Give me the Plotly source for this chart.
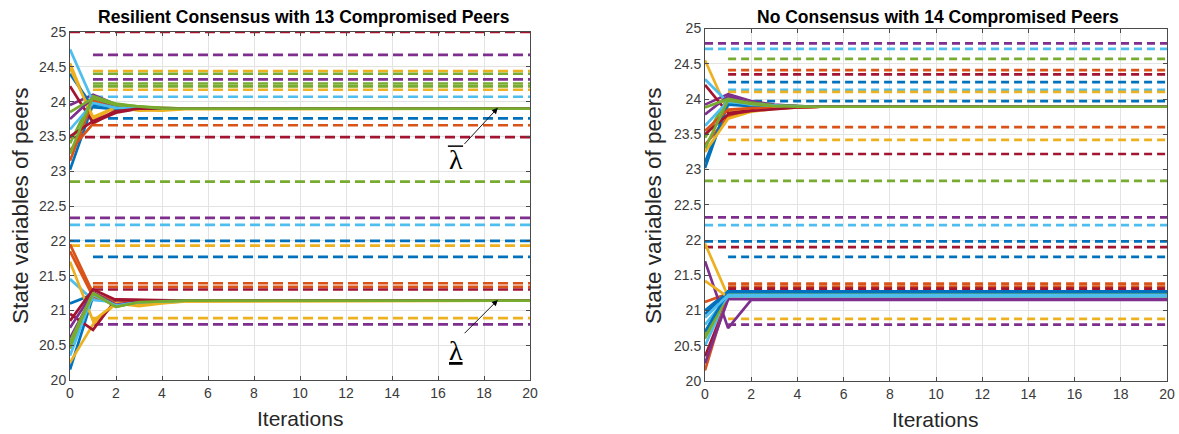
import plotly.graph_objects as go

# ---------------- data ----------------
iters = [0, 1, 2, 3, 4, 5, 20]
x_ticks = [0, 2, 4, 6, 8, 10, 12, 14, 16, 18, 20]
y_ticks = [20, 20.5, 21, 21.5, 22, 22.5, 23, 23.5, 24, 24.5, 25]

left_title = "Resilient Consensus with 13 Compromised Peers"
right_title = "No Consensus with 14 Compromised Peers"
y_label = "State variables of peers"
x_label = "Iterations"

# compromised peers (constant states), left panel
left_comp = [25.00, 24.67, 24.44, 24.40, 24.32, 24.26, 24.22, 24.17, 24.07,
             23.76, 23.66, 23.49, 22.85, 22.33, 22.23, 22.00, 21.93, 21.77,
             21.39, 21.34, 21.30, 20.89, 20.80]
left_comp_start = [0, 1, 1, 1, 1, 1, 1, 1, 1, 1, 1, 0, 0, 0, 0, 0, 0, 1,
                   1, 1, 1, 1, 1]
# compromised peers, right panel
right_comp = [24.79, 24.71, 24.57, 24.41, 24.35, 24.24, 24.13, 24.10, 23.97,
              23.60, 23.42, 23.22, 22.84, 22.32, 22.21, 21.98, 21.90, 21.76,
              21.38, 21.34, 21.31, 20.88, 20.80]
right_comp_start = [0, 0, 1, 1, 1, 1, 1, 1, 1, 1, 1, 1, 0, 0, 0, 0, 0, 1,
                    1, 1, 1, 1, 1]

# honest peers, left panel (values at iters)
left_upper = [
    [23.02, 23.96, 23.91, 23.90, 23.90, 23.90, 23.90],
    [23.30, 23.68, 23.88, 23.90, 23.89, 23.90, 23.90],
    [24.55, 23.74, 23.93, 23.88, 23.87, 23.89, 23.90],
    [23.95, 24.10, 23.96, 23.92, 23.90, 23.90, 23.90],
    [23.40, 24.08, 23.97, 23.93, 23.91, 23.90, 23.90],
    [24.75, 24.00, 23.90, 23.90, 23.90, 23.90, 23.90],
    [24.22, 23.70, 23.84, 23.90, 23.90, 23.90, 23.90],
    [24.40, 23.92, 23.89, 23.90, 23.90, 23.90, 23.90],
    [23.15, 24.02, 23.92, 23.91, 23.90, 23.90, 23.90],
    [24.48, 23.78, 23.92, 23.87, 23.88, 23.90, 23.90],
    [23.75, 24.06, 23.93, 23.91, 23.90, 23.90, 23.90],
    [23.85, 24.05, 23.95, 23.92, 23.91, 23.90, 23.90],
    [23.60, 23.98, 23.91, 23.90, 23.90, 23.90, 23.90],
    [23.50, 23.72, 23.86, 23.90, 23.90, 23.90, 23.90],
    [23.25, 24.07, 23.96, 23.93, 23.90, 23.90, 23.90],
]
left_lower = [
    [20.15, 21.20, 21.10, 21.12, 21.13, 21.14, 21.14],
    [21.95, 21.25, 21.12, 21.13, 21.14, 21.14, 21.14],
    [20.25, 20.80, 21.10, 21.06, 21.10, 21.13, 21.14],
    [20.60, 21.22, 21.08, 21.12, 21.13, 21.14, 21.14],
    [20.45, 21.24, 21.05, 21.12, 21.13, 21.14, 21.14],
    [21.45, 21.15, 21.12, 21.13, 21.14, 21.14, 21.14],
    [20.95, 20.72, 21.16, 21.15, 21.14, 21.14, 21.14],
    [21.10, 21.23, 21.10, 21.13, 21.14, 21.14, 21.14],
    [21.85, 21.20, 21.11, 21.13, 21.14, 21.14, 21.14],
    [21.70, 20.85, 21.10, 21.08, 21.11, 21.13, 21.14],
    [20.75, 21.26, 21.08, 21.13, 21.14, 21.14, 21.14],
    [20.55, 21.25, 21.06, 21.12, 21.13, 21.14, 21.14],
    [20.35, 21.22, 21.07, 21.12, 21.13, 21.14, 21.14],
    [20.85, 21.30, 21.15, 21.14, 21.14, 21.14, 21.14],
    [20.50, 21.24, 21.05, 21.12, 21.13, 21.14, 21.14],
]
# honest peers, right panel
right_upper = [
    [23.02, 23.96, 23.92, 23.90, 23.89, 23.89, 23.89],
    [23.35, 23.75, 23.84, 23.87, 23.88, 23.89, 23.89],
    [24.55, 23.82, 23.86, 23.88, 23.89, 23.89, 23.89],
    [23.92, 24.07, 23.97, 23.92, 23.90, 23.89, 23.89],
    [23.45, 24.02, 23.95, 23.91, 23.90, 23.89, 23.89],
    [24.28, 23.95, 23.91, 23.90, 23.89, 23.89, 23.89],
    [24.20, 23.80, 23.84, 23.87, 23.88, 23.89, 23.89],
    [23.10, 23.92, 23.90, 23.89, 23.89, 23.89, 23.89],
    [23.55, 23.85, 23.87, 23.88, 23.89, 23.89, 23.89],
    [23.25, 23.72, 23.82, 23.86, 23.88, 23.89, 23.89],
    [23.78, 24.04, 23.94, 23.91, 23.90, 23.89, 23.89],
    [23.88, 24.00, 23.94, 23.91, 23.90, 23.89, 23.89],
    [23.62, 23.97, 23.92, 23.90, 23.89, 23.89, 23.89],
    [23.50, 23.78, 23.83, 23.86, 23.88, 23.89, 23.89],
    [23.30, 23.98, 23.93, 23.90, 23.89, 23.89, 23.89],
]
right_lower = [
    [21.00, 21.27, 21.27, 21.27, 21.27, 21.27, 21.27],
    [21.12, 21.24, 21.24, 21.24, 21.24, 21.24, 21.24],
    [21.95, 21.20, 21.20, 21.20, 21.20, 21.20, 21.20],
    [21.70, 20.75, 21.15, 21.15, 21.15, 21.15, 21.15],
    [20.65, 21.22, 21.22, 21.22, 21.22, 21.22, 21.22],
    [20.50, 21.21, 21.21, 21.21, 21.21, 21.21, 21.21],
    [20.35, 21.17, 21.17, 21.17, 21.17, 21.17, 21.17],
    [20.95, 21.27, 21.27, 21.27, 21.27, 21.27, 21.27],
    [20.15, 21.24, 21.24, 21.24, 21.24, 21.24, 21.24],
    [21.42, 21.19, 21.19, 21.19, 21.19, 21.19, 21.19],
    [20.25, 21.16, 21.16, 21.16, 21.16, 21.16, 21.16],
    [20.60, 21.23, 21.23, 21.23, 21.23, 21.23, 21.23],
    [20.80, 21.20, 21.20, 21.20, 21.20, 21.20, 21.20],
    [20.70, 21.26, 21.26, 21.26, 21.26, 21.26, 21.26],
    [20.90, 21.22, 21.22, 21.22, 21.22, 21.22, 21.22],
]

# annotation anchors (data units of left panel)
upper_arrow_tip = (18.6, 23.91)
upper_arrow_tail = (17.09, 23.37)
lower_arrow_tip = (18.6, 21.15)
lower_arrow_tail = (17.09, 20.65)
upper_label = (16.77, 23.17)
lower_label = (16.77, 20.42)
overbar = (16.43, 17.09, 23.36)

# ---------------- styles ----------------
BLUE, ORANGE, YELLOW, PURPLE, GREEN, LBLUE, MAROON = (
    "#0072BD", "#D95319", "#EDB120", "#7E2F8E", "#77AC30", "#4DBEEE", "#A2142F")
cycle = [BLUE, ORANGE, YELLOW, PURPLE, GREEN, LBLUE, MAROON]

left_comp_colors = [MAROON, PURPLE, YELLOW, GREEN, PURPLE, GREEN, GREEN, YELLOW,
                    LBLUE, BLUE, ORANGE, MAROON, GREEN, PURPLE, LBLUE, BLUE,
                    YELLOW, BLUE, ORANGE, ORANGE, MAROON, YELLOW, PURPLE]
right_comp_colors = [PURPLE, LBLUE, GREEN, ORANGE, MAROON, BLUE, LBLUE, YELLOW,
                     BLUE, ORANGE, YELLOW, MAROON, GREEN, PURPLE, LBLUE, BLUE,
                     MAROON, BLUE, ORANGE, ORANGE, MAROON, YELLOW, PURPLE]
left_upper_colors = cycle * 2 + [GREEN]
left_lower_colors = cycle * 2 + [GREEN]
right_upper_colors = cycle * 2 + [GREEN]
right_lower_colors = [BLUE, ORANGE, YELLOW, PURPLE, GREEN, LBLUE, MAROON,
                      BLUE, ORANGE, YELLOW, PURPLE, GREEN, LBLUE, BLUE, LBLUE]

FONT = "Liberation Sans, Arial, sans-serif"
FW, FH = 1179, 434


def px(x):
    return x / FW


def py(y):
    return 1 - y / FH


fig = go.Figure()


def add_panel(xa, ya, comp, comp_start, comp_colors, groups, dash):
    for v, s, c in zip(comp, comp_start, comp_colors):
        fig.add_trace(go.Scatter(x=[s, 20], y=[v, v], mode="lines",
                                 line=dict(color=c, width=2.7, dash=dash),
                                 xaxis=xa, yaxis=ya, showlegend=False,
                                 hoverinfo="skip"))
    for vals_list, colors in groups:
        for vals, c in zip(vals_list, colors):
            fig.add_trace(go.Scatter(x=iters, y=vals, mode="lines",
                                     line=dict(color=c, width=2.7),
                                     xaxis=xa, yaxis=ya, showlegend=False,
                                     hoverinfo="skip"))


add_panel("x", "y", left_comp, left_comp_start, left_comp_colors,
          [(left_upper, left_upper_colors), (left_lower, left_lower_colors)],
          "10px,5px")
add_panel("x2", "y2", right_comp, right_comp_start, right_comp_colors,
          [(right_upper, right_upper_colors), (right_lower, right_lower_colors)],
          "8px,5px")

axis_common = dict(showgrid=True, gridcolor="#e3e3e3", gridwidth=1,
                   zeroline=False, showline=True, linecolor="#4a4a4a",
                   linewidth=1, mirror="ticks", ticks="inside", ticklen=4,
                   tickcolor="#4a4a4a", automargin=False,
                   tickfont=dict(family=FONT, size=14, color="#3a3a3a"))

fig.update_layout(
    template="none",
    width=FW, height=FH,
    margin=dict(l=0, r=0, t=0, b=0, pad=0, autoexpand=False),
    paper_bgcolor="white", plot_bgcolor="white",
    xaxis=dict(domain=[px(70), px(530)], range=[0, 20], tickvals=x_ticks,
               anchor="y", **axis_common),
    yaxis=dict(domain=[py(380), py(32)], range=[20, 25],
               tickvals=y_ticks, anchor="x", **axis_common),
    xaxis2=dict(domain=[px(705), px(1167)], range=[0, 20], tickvals=x_ticks,
                anchor="y2", **axis_common),
    yaxis2=dict(domain=[py(381), py(28.5)], range=[20, 25],
                tickvals=y_ticks, anchor="x2", **axis_common),
)


def text_ann(text, x, y, size, color="#262626", bold=False, angle=0):
    return dict(text=("<b>" + text + "</b>") if bold else text,
                x=px(x), y=py(y), xref="paper", yref="paper",
                xanchor="center", yanchor="middle", textangle=angle,
                showarrow=False,
                font=dict(family=FONT, size=size, color=color))


annotations = [
    text_ann(left_title, 304, 17, 17.5, "black", bold=True),
    text_ann(right_title, 938, 17, 17.5, "black", bold=True),
    text_ann(y_label, 20, 206, 22.5, angle=-90),
    text_ann(y_label, 653, 206, 22.5, angle=-90),
    text_ann(x_label, 300, 418, 21),
    text_ann(x_label, 935, 419, 21),
    # arrows
    dict(x=upper_arrow_tip[0], y=upper_arrow_tip[1], ax=upper_arrow_tail[0],
         ay=upper_arrow_tail[1], xref="x", yref="y", axref="x", ayref="y",
         text="", showarrow=True, arrowhead=2, arrowsize=1.3, arrowwidth=0.9,
         arrowcolor="black"),
    dict(x=lower_arrow_tip[0], y=lower_arrow_tip[1], ax=lower_arrow_tail[0],
         ay=lower_arrow_tail[1], xref="x", yref="y", axref="x", ayref="y",
         text="", showarrow=True, arrowhead=2, arrowsize=1.3, arrowwidth=0.9,
         arrowcolor="black"),
    dict(text="λ", x=upper_label[0], y=upper_label[1], xref="x", yref="y",
         showarrow=False, xanchor="center", yanchor="middle",
         font=dict(family="Liberation Serif, serif", size=28, color="black")),
    dict(text="<u>λ</u>", x=lower_label[0], y=lower_label[1], xref="x",
         yref="y", showarrow=False, xanchor="center", yanchor="middle",
         font=dict(family="Liberation Serif, serif", size=28, color="black")),
]
fig.update_layout(annotations=annotations)
fig.add_shape(type="line", xref="x", yref="y", x0=overbar[0], x1=overbar[1],
              y0=overbar[2], y1=overbar[2], line=dict(color="black", width=1.5))

# remove the default 8px page margin so the figure fills the window exactly
fig.write_html("out.html",
               config={"displayModeBar": False, "staticPlot": True},
               post_script="document.body.style.margin='0px';"
                           "document.body.style.overflow='hidden';")
